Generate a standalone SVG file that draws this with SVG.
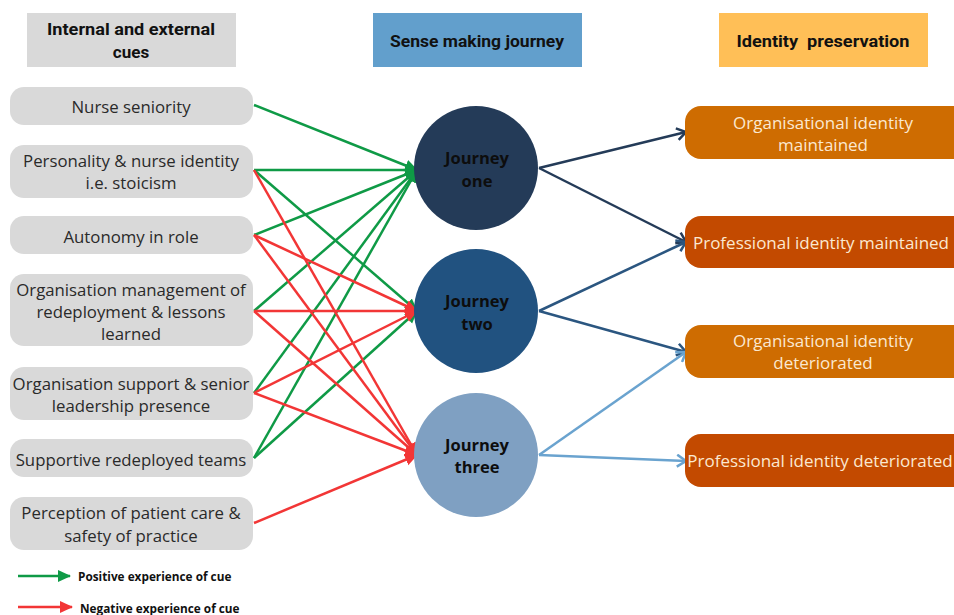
<svg xmlns="http://www.w3.org/2000/svg" width="954" height="615" viewBox="0 0 954 615">
<defs>
<style>
.cue{fill:#d9d9d9}
.ct{font-family:"Open Sans","Liberation Sans",sans-serif;font-size:16.8px;fill:#2a2a2a;text-anchor:middle;dominant-baseline:central}
.hd{font-family:Roboto,"Liberation Sans",sans-serif;font-weight:bold;font-size:17px;fill:#111;text-anchor:middle;dominant-baseline:central}
.jt{font-family:"Open Sans","Liberation Sans",sans-serif;font-weight:bold;font-size:16.5px;fill:#0d0d0d;text-anchor:middle;dominant-baseline:central}
.it{font-family:"Open Sans","Liberation Sans",sans-serif;font-size:17px;fill:#fbe8d0;text-anchor:middle;dominant-baseline:central}
.lg{font-family:"Open Sans","Liberation Sans",sans-serif;font-weight:bold;font-size:11.8px;fill:#111;dominant-baseline:central}
.g{stroke:#0f9a46;stroke-width:2.5;fill:none;marker-end:url(#ag)}
.r{stroke:#f23636;stroke-width:2.5;fill:none;marker-end:url(#ar)}
.b1{stroke:#243b58;stroke-width:2.5;fill:none;marker-end:url(#ab1)}
.b2{stroke:#2b5680;stroke-width:2.5;fill:none;marker-end:url(#ab2)}
.b3{stroke:#6aa3cf;stroke-width:2.5;fill:none;marker-end:url(#ab3)}
</style>
<marker id="ag" markerUnits="userSpaceOnUse" markerWidth="14" markerHeight="14" viewBox="0 0 14 14" refX="12" refY="7" orient="auto"><path d="M0,1 L13,7 L0,13 Z" fill="#0f9a46"/></marker>
<marker id="ar" markerUnits="userSpaceOnUse" markerWidth="14" markerHeight="14" viewBox="0 0 14 14" refX="12" refY="7" orient="auto"><path d="M0,1 L13,7 L0,13 Z" fill="#f23636"/></marker>
<marker id="ab1" markerUnits="userSpaceOnUse" markerWidth="14" markerHeight="14" viewBox="0 0 14 14" refX="12" refY="7" orient="auto"><path d="M3,1 L12,7 L3,13" fill="none" stroke="#243b58" stroke-width="2.5"/></marker>
<marker id="ab2" markerUnits="userSpaceOnUse" markerWidth="14" markerHeight="14" viewBox="0 0 14 14" refX="12" refY="7" orient="auto"><path d="M3,1 L12,7 L3,13" fill="none" stroke="#2b5680" stroke-width="2.5"/></marker>
<marker id="ab3" markerUnits="userSpaceOnUse" markerWidth="14" markerHeight="14" viewBox="0 0 14 14" refX="12" refY="7" orient="auto"><path d="M3,1 L12,7 L3,13" fill="none" stroke="#6aa3cf" stroke-width="2.5"/></marker>
</defs>
<rect width="954" height="615" fill="#ffffff"/>

<g id="headers">
<g id="h-cues"><rect x="27" y="13" width="209" height="54" fill="#d9d9d9"/><text class="hd" x="131" y="29" textLength="168" lengthAdjust="spacingAndGlyphs">Internal and external</text><text class="hd" x="131" y="52">cues</text></g>
<g id="h-journey"><rect x="373" y="13" width="209" height="54" fill="#629fcc"/><text class="hd" x="477" y="41" textLength="174" lengthAdjust="spacingAndGlyphs">Sense making journey</text></g>
<g id="h-identity"><rect x="719" y="13" width="209" height="54" fill="#ffbf57"/><text class="hd" x="823" y="41" textLength="173" lengthAdjust="spacingAndGlyphs" xml:space="preserve">Identity  preservation</text></g>
</g>

<g id="connectors">
<line class="g" x1="254" y1="105" x2="417" y2="170"/>
<line class="g" x1="254" y1="170" x2="417" y2="170"/>
<line class="g" x1="254" y1="235" x2="417" y2="170"/>
<line class="g" x1="254" y1="311" x2="417" y2="170"/>
<line class="g" x1="254" y1="393" x2="417" y2="170"/>
<line class="g" x1="254" y1="458" x2="417" y2="170"/>
<line class="g" x1="254" y1="170" x2="417" y2="311"/>
<line class="g" x1="254" y1="458" x2="417" y2="311"/>
<line class="r" x1="254" y1="235" x2="417" y2="311"/>
<line class="r" x1="254" y1="311" x2="417" y2="311"/>
<line class="r" x1="254" y1="393" x2="417" y2="311"/>
<line class="r" x1="254" y1="170" x2="417" y2="455"/>
<line class="r" x1="254" y1="235" x2="417" y2="455"/>
<line class="r" x1="254" y1="311" x2="417" y2="455"/>
<line class="r" x1="254" y1="393" x2="417" y2="455"/>
<line class="r" x1="254" y1="523" x2="417" y2="455"/>
<line class="b1" x1="539" y1="168" x2="686" y2="132"/>
<line class="b1" x1="539" y1="168" x2="686" y2="242"/>
<line class="b2" x1="539" y1="311" x2="686" y2="242"/>
<line class="b2" x1="539" y1="311" x2="686" y2="352"/>
<line class="b3" x1="539" y1="455" x2="686" y2="352"/>
<line class="b3" x1="539" y1="455" x2="686" y2="461"/>
</g>

<g id="cue1"><rect class="cue" x="10" y="87" width="243" height="38" rx="14"/><text class="ct" x="131" y="106">Nurse seniority</text></g>
<g id="cue2"><rect class="cue" x="10" y="145" width="243" height="53" rx="14"/><text class="ct" x="131" y="160">Personality &amp; nurse identity</text><text class="ct" x="131" y="182">i.e. stoicism</text></g>
<g id="cue3"><rect class="cue" x="10" y="216" width="243" height="38" rx="14"/><text class="ct" x="131" y="236">Autonomy in role</text></g>
<g id="cue4"><rect class="cue" x="10" y="274" width="243" height="72" rx="14"/><text class="ct" x="131" y="289">Organisation management of</text><text class="ct" x="131" y="311">redeployment &amp; lessons</text><text class="ct" x="131" y="333">learned</text></g>
<g id="cue5"><rect class="cue" x="10" y="367" width="243" height="53" rx="14"/><text class="ct" x="131" y="383">Organisation support &amp; senior</text><text class="ct" x="131" y="405">leadership presence</text></g>
<g id="cue6"><rect class="cue" x="10" y="439" width="243" height="38" rx="14"/><text class="ct" x="131" y="459">Supportive redeployed teams</text></g>
<g id="cue7"><rect class="cue" x="10" y="497" width="243" height="53" rx="14"/><text class="ct" x="131" y="512">Perception of patient care &amp;</text><text class="ct" x="131" y="535">safety of practice</text></g>

<g id="journey1"><circle cx="476" cy="168" r="62" fill="#243b58"/><text class="jt" x="477" y="157">Journey</text><text class="jt" x="477" y="180">one</text></g>
<g id="journey2"><circle cx="476" cy="311" r="62" fill="#215280"/><text class="jt" x="477" y="300">Journey</text><text class="jt" x="477" y="323">two</text></g>
<g id="journey3"><circle cx="476" cy="455" r="62" fill="#7fa0c2"/><text class="jt" x="477" y="444">Journey</text><text class="jt" x="477" y="466">three</text></g>

<g id="id1"><rect x="685" y="106" width="285" height="53" rx="16" fill="#ce6c01"/><text class="it" x="823" y="122">Organisational identity</text><text class="it" x="823" y="144">maintained</text></g>
<g id="id2"><rect x="685" y="216" width="285" height="52" rx="16" fill="#c34a00"/><text class="it" x="821" y="242">Professional identity maintained</text></g>
<g id="id3"><rect x="685" y="325" width="285" height="53" rx="16" fill="#ce6c01"/><text class="it" x="823" y="340">Organisational identity</text><text class="it" x="823" y="362">deteriorated</text></g>
<g id="id4"><rect x="685" y="434" width="285" height="53" rx="16" fill="#c34a00"/><text class="it" x="820" y="460">Professional identity deteriorated</text></g>

<g id="legend">
<line class="g" x1="18" y1="576" x2="70" y2="576"/><text class="lg" x="78" y="576">Positive experience of cue</text>
<line class="r" x1="18" y1="607" x2="72" y2="607"/><text class="lg" x="80" y="608">Negative experience of cue</text>
</g>
</svg>
